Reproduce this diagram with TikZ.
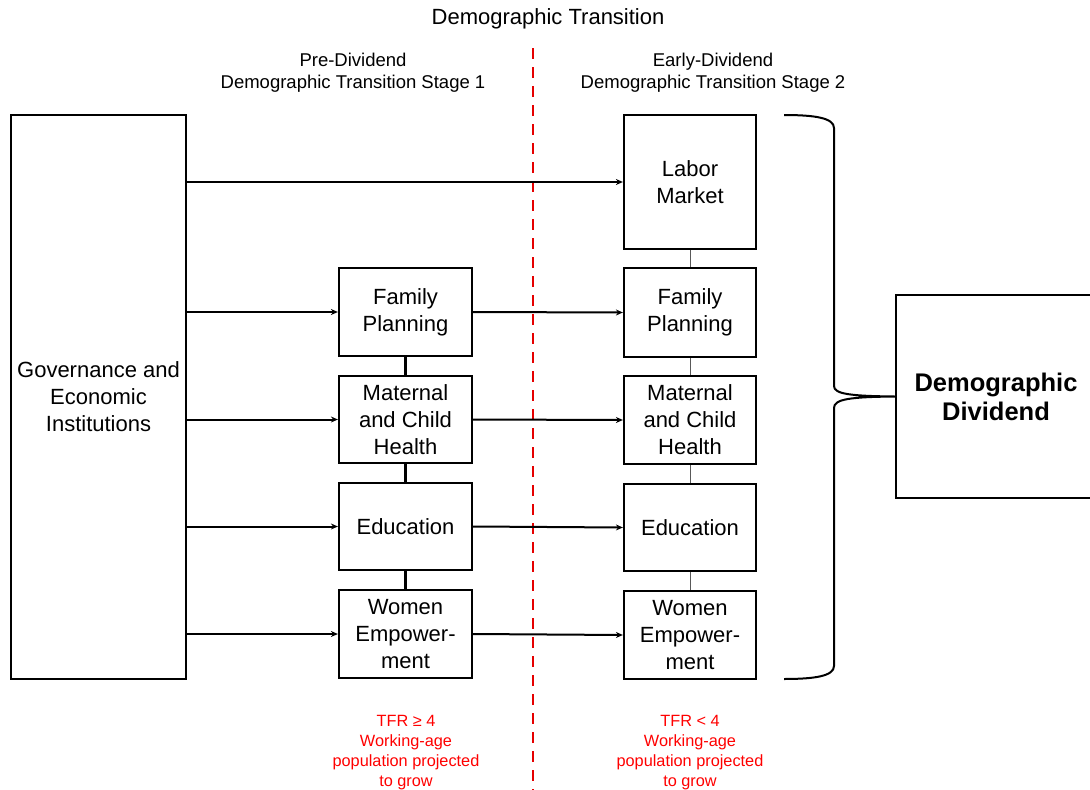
\documentclass[tikz,border=0pt]{standalone}
\usepackage{fontspec}
\setmainfont{Liberation Sans}
\usetikzlibrary{arrows.meta}
\begin{document}
\begin{tikzpicture}[x=1pt,y=-1pt,
  box/.style={draw,line width=2.2pt,inner sep=0pt,align=center,font=\fontsize{22}{27}\selectfont},
  arr/.style={line width=2pt,-{Stealth[length=7pt,width=6pt]}},
  link/.style={line width=2.2pt},
  thinlink/.style={line width=0.8pt,gray!70!black},
  hdr/.style={align=center,font=\fontsize{18.5}{22}\selectfont},
  note/.style={align=center,text=red,font=\fontsize{16.3}{20.2}\selectfont}]
\useasboundingbox (0,0) rectangle (1090,790);
% boxes: centre and size
\node[box,minimum width=175pt,minimum height=564pt] (gov) at (98.5,397) {Governance and\\Economic\\Institutions};
\node[box,minimum width=133pt,minimum height=88pt] (fp1) at (405.5,312) {Family\\Planning};
\node[box,minimum width=133pt,minimum height=87pt] (mch1) at (405.5,419.5) {Maternal\\and Child\\Health};
\node[box,minimum width=133pt,minimum height=87pt] (ed1) at (405.5,526.5) {Education};
\node[box,minimum width=133pt,minimum height=88pt] (we1) at (405.5,634) {Women\\Empower-\\ment};
\node[box,minimum width=132pt,minimum height=134pt] (lab) at (690,182) {Labor\\Market};
\node[box,minimum width=132pt,minimum height=89pt] (fp2) at (690,312.5) {Family\\Planning};
\node[box,minimum width=132pt,minimum height=88pt] (mch2) at (690,420) {Maternal\\and Child\\Health};
\node[box,minimum width=132pt,minimum height=87pt] (ed2) at (690,527.5) {Education};
\node[box,minimum width=132pt,minimum height=88pt] (we2) at (690,635) {Women\\Empower-\\ment};
\node[box,minimum width=200pt,minimum height=203pt,font=\fontsize{25.5}{29}\selectfont\bfseries] (dd) at (996,396.5) {Demographic\\Dividend};
% headers
\node[hdr,font=\fontsize{22}{26}\selectfont] (title) at (548,19) {Demographic Transition};
\node[hdr] (h1) at (353,72.5) {Pre-Dividend\\Demographic Transition Stage 1};
\node[hdr] (h2) at (713,72.5) {Early-Dividend\\Demographic Transition Stage 2};
\node[note] (n1) at (406,752.5) {TFR ≥ 4\\Working-age\\population projected\\to grow};
\node[note] (n2) at (690,752.5) {TFR < 4\\Working-age\\population projected\\to grow};
% dashed divider
\coordinate (dtop) at (533,48);
\coordinate (dbot) at (533,790);
\draw[red!90!black,line width=2.4pt,dash pattern=on 11pt off 8pt] (dtop) -- (dbot);
% arrows from governance
\draw[arr] (gov.east |- lab) -- (lab.west);
\draw[arr] (gov.east |- fp1) -- (fp1.west);
\draw[arr] (gov.east |- mch1) -- (mch1.west);
\draw[arr] (gov.east |- ed1) -- (ed1.west);
\draw[arr] (gov.east |- we1) -- (we1.west);
% stage 1 to stage 2
\draw[arr] (fp1.east) -- (fp2.west);
\draw[arr] (mch1.east) -- (mch2.west);
\draw[arr] (ed1.east) -- (ed2.west);
\draw[arr] (we1.east) -- (we2.west);
% vertical links
\draw[link] (fp1.south) -- (mch1.north);
\draw[link] (mch1.south) -- (ed1.north);
\draw[link] (ed1.south) -- (we1.north);
\draw[thinlink] (lab.south) -- (fp2.north);
\draw[thinlink] (fp2.south) -- (mch2.north);
\draw[thinlink] (mch2.south) -- (ed2.north);
\draw[thinlink] (ed2.south) -- (we2.north);
% brace
\draw[line width=2pt] (784,115) .. controls (815,115) and (834,118) .. (834,128)
  -- (834,386) .. controls (834,394) and (850,396) .. (dd.west)
  (dd.west) .. controls (850,397) and (834,399) .. (834,408)
  -- (834,666) .. controls (834,676) and (815,679) .. (784,679);
\end{tikzpicture}
\end{document}
